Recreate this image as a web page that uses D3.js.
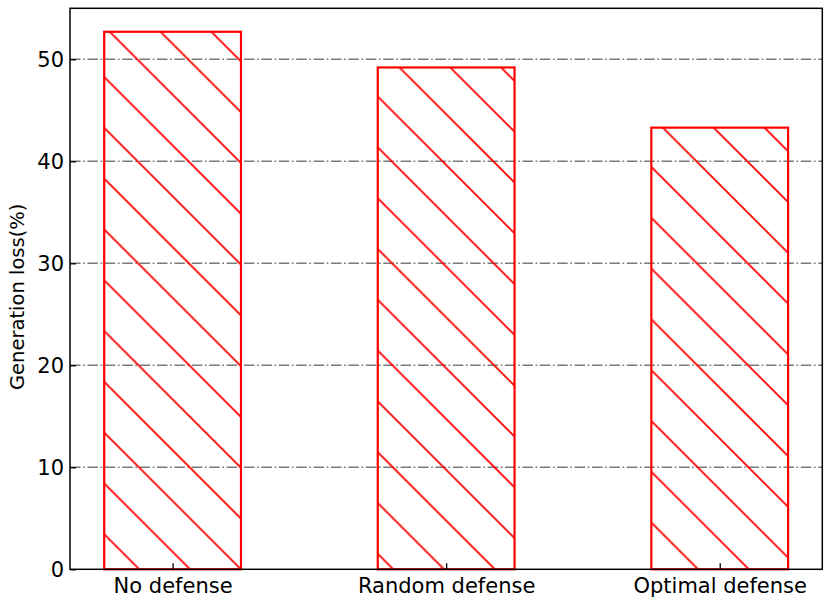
<!DOCTYPE html>
<html>
<head>
<meta charset="utf-8">
<script src="https://cdn.jsdelivr.net/npm/d3@7/dist/d3.min.js"></script>
<style>
  html, body { margin: 0; padding: 0; background: #ffffff; }
  svg { display: block; }
  text { font-family: "DejaVu Sans", sans-serif; fill: #000; }
</style>
</head>
<body>
<svg id="chart" width="831" height="602"></svg>
<script>
// ---- data ----
const categories = ["No defense", "Random defense", "Optimal defense"];
const values = [52.7, 49.2, 43.3];
const yTicks = [0, 10, 20, 30, 40, 50];
const yLabel = "Generation loss(%)";

// ---- layout ----
const mLeft = 70, mRight = 822.3, mTop = 8.3, mBottom = 569.3;
const svg = d3.select("#chart");

const x = d3.scaleLinear().domain([-0.375, 2.375]).range([mLeft, mRight]);
const y = d3.scaleLinear().domain([0, 55]).range([mBottom, mTop]);
const barW = 0.5;

// hatch pattern (figure-aligned)
const P = 50.8;
const defs = svg.append("defs");
const pat = defs.append("pattern")
  .attr("id", "hatch")
  .attr("patternUnits", "userSpaceOnUse")
  .attr("width", P).attr("height", P)
  .attr("patternTransform", `translate(0, ${23.6})`);
pat.append("path")
  .attr("d", `M-2,-2 L${P + 2},${P + 2} M-2,${P - 2} L2,${P + 2} M${P - 2},-2 L${P + 2},2`)
  .attr("stroke", "#ff0000")
  .attr("stroke-width", 1.8)
  .attr("fill", "none");

// grid
svg.append("g").selectAll("line")
  .data(yTicks.filter(d => d > 0))
  .join("line")
  .attr("x1", mLeft).attr("x2", mRight)
  .attr("y1", d => y(d)).attr("y2", d => y(d))
  .attr("stroke", "#7a7a7a")
  .attr("stroke-width", 1.6)
  .attr("stroke-dasharray", "10.5,2.6,1.7,2.6");

// bars
svg.append("g").selectAll("rect")
  .data(values)
  .join("rect")
  .attr("x", (d, i) => x(i - barW / 2))
  .attr("width", (d, i) => x(i + barW / 2) - x(i - barW / 2))
  .attr("y", d => y(d))
  .attr("height", d => y(0) - y(d))
  .attr("fill", "url(#hatch)")
  .attr("stroke", "#ff0000")
  .attr("stroke-width", 2.2);

// axes
const yAxis = d3.axisLeft(y).tickValues(yTicks).tickSize(-6).tickPadding(6).tickFormat(d3.format("d"));
const xAxis = d3.axisBottom(x).tickValues(categories.map((c, i) => i)).tickSize(-6).tickPadding(9)
  .tickFormat(i => categories[i]);

const gy = svg.append("g").attr("transform", `translate(${mLeft},0)`).call(yAxis);
const gx = svg.append("g").attr("transform", `translate(0,${mBottom})`).call(xAxis);
[gx, gy].forEach(g => {
  g.select(".domain").remove();
  g.selectAll(".tick line").attr("stroke", "#000").attr("stroke-width", 1.3);
  g.selectAll("text").attr("font-size", 21).attr("font-family", "DejaVu Sans").attr("fill", "#000");
});

// frame
svg.append("rect")
  .attr("x", mLeft).attr("y", mTop)
  .attr("width", mRight - mLeft).attr("height", mBottom - mTop)
  .attr("fill", "none").attr("stroke", "#000").attr("stroke-width", 1.5);

// y label
svg.append("text")
  .attr("transform", `translate(24, ${(mTop + mBottom) / 2 + 8}) rotate(-90)`)
  .attr("text-anchor", "middle")
  .attr("font-size", 19.5)
  .text(yLabel);
</script>
</body>
</html>
